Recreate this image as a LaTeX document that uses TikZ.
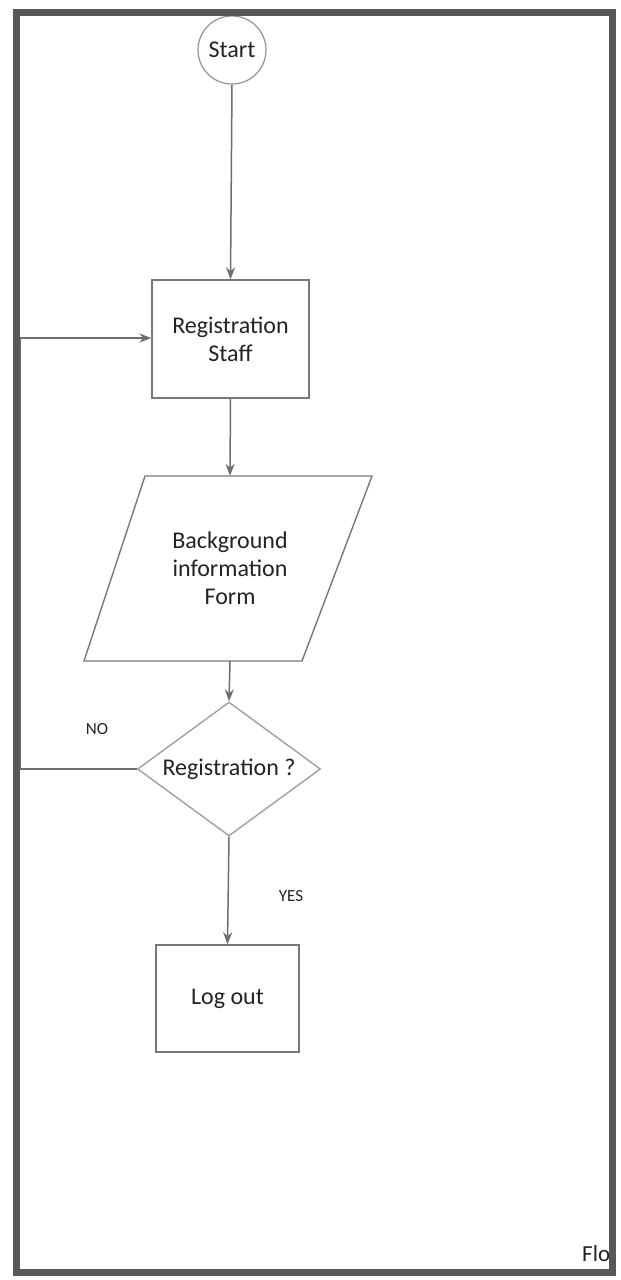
\documentclass[tikz,border=0pt]{standalone}
\usepackage{fontspec}
\setmainfont{Carlito}
\usetikzlibrary{shapes.geometric,arrows.meta}
\definecolor{framegray}{RGB}{88,88,88}
\definecolor{linegray}{RGB}{110,110,110}
\definecolor{shapegray}{RGB}{120,120,120}
\definecolor{txtgray}{RGB}{35,35,35}
\begin{document}
\begin{tikzpicture}[x=1pt,y=-1pt,
  every node/.style={text=txtgray},
  maintext/.style={font=\fontsize{24}{28}\selectfont, align=center},
  lbl/.style={font=\fontsize{17}{20}\selectfont},
  procbox/.style={draw=shapegray, line width=1.4pt, maintext, inner sep=0pt},
  conn/.style={draw=linegray, line width=1.5pt},
  arr/.style={conn, -{Stealth[length=12pt,width=9pt]}}]
\useasboundingbox (0,0) rectangle (621,1280);
\fill[white] (0,0) rectangle (621,1280);
% Start
\node[draw=shapegray!80, line width=1.2pt, circle, minimum size=68pt, inner sep=0pt, maintext] (start) at (232,50) {Start};
% Registration staff
\node[procbox, minimum width=157pt, minimum height=118pt] (staff) at (230.5,339) {Registration\\Staff};
% Background info (parallelogram drawn around a plain node)
\node[maintext, minimum width=150pt, minimum height=185pt, inner sep=0pt] (bg) at (230,568.5) {Background\\information\\Form};
\draw[draw=shapegray, line width=1.4pt] (145,476) -- (372,476) -- (302,661) -- (84,661) -- cycle;
% Decision
\node[draw=shapegray!70, line width=1.4pt, diamond, aspect=1.37, inner sep=0pt, minimum width=183pt, minimum height=134pt, maintext] (dec) at (229,769) {Registration ?};
% Log out
\node[procbox, minimum width=143pt, minimum height=107pt] (logout) at (227.5,998.5) {Log out};
% connectors
\draw[arr] (start.south) -- (staff.north);
\draw[arr] (staff.south) -- (bg.north);
\draw[arr] (bg.south) -- (dec.north);
\draw[arr] (dec.south) -- (logout.north);
\coordinate (nob) at (20,769);
\coordinate (not) at (20,338);
\draw[conn] (dec.west) -- (nob) -- (not);
\draw[arr] (not) -- (staff.west |- not);
% labels
\node[lbl] (no) at (97,729) {NO};
\node[lbl] (yes) at (291,896) {YES};
% caption fragment at the frame edge
\node[anchor=west, font=\fontsize{23}{28}\selectfont, inner sep=0pt] (flo) at (582,1254) {Flo};
% frame
\draw[framegray, line width=7pt] (16,12) rectangle (612,1272);
\end{tikzpicture}
\end{document}
